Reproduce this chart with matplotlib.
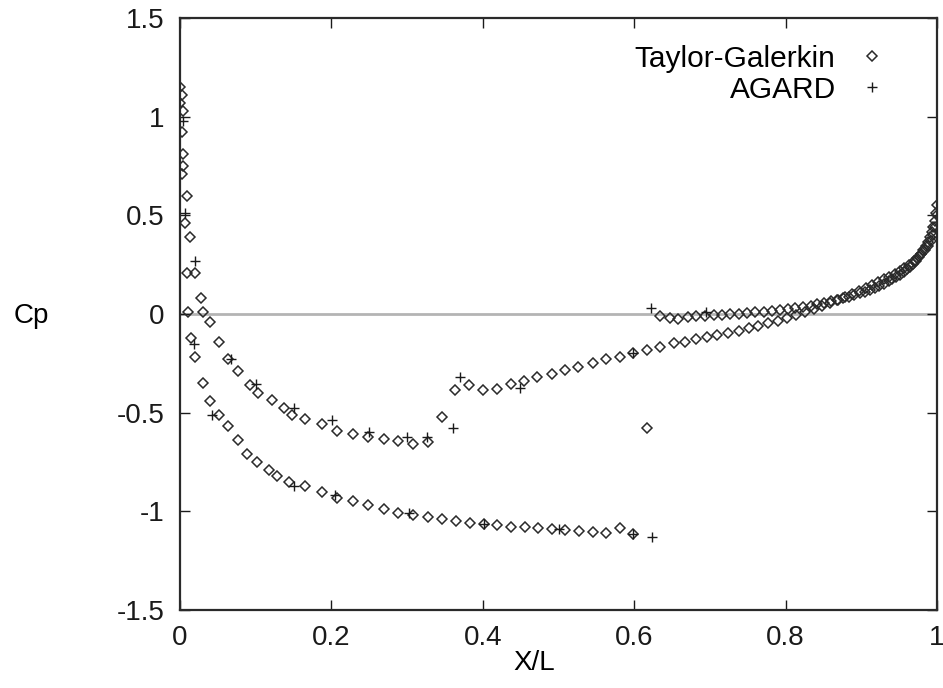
import matplotlib
matplotlib.use("Agg")
import matplotlib.pyplot as plt
import numpy as np

plt.rcParams["font.family"] = ["Liberation Sans", "DejaVu Sans"]

# Taylor-Galerkin, upper surface (suction side, shock near x/L = 0.62)
tg_upper_x = [0.000, 0.002, 0.000, 0.004, 0.002, 0.004, 0.004, 0.002, 0.009, 0.006,
              0.013, 0.009, 0.011, 0.015, 0.020, 0.030, 0.040, 0.052, 0.064, 0.076,
              0.088, 0.102, 0.117, 0.128, 0.144, 0.165, 0.187, 0.208, 0.228, 0.249,
              0.269, 0.288, 0.308, 0.327, 0.346, 0.365, 0.383, 0.401, 0.419, 0.437,
              0.456, 0.473, 0.492, 0.509, 0.527, 0.545, 0.563, 0.581, 0.599]
tg_upper_cp = [1.15, 1.11, 1.07, 1.03, 0.92, 0.81, 0.75, 0.71, 0.60, 0.46,
               0.39, 0.21, 0.01, -0.12, -0.22, -0.35, -0.44, -0.51, -0.57, -0.64,
               -0.71, -0.75, -0.79, -0.82, -0.85, -0.87, -0.90, -0.93, -0.95, -0.97,
               -0.99, -1.01, -1.02, -1.03, -1.04, -1.05, -1.06, -1.066, -1.069, -1.078,
               -1.078, -1.086, -1.091, -1.095, -1.098, -1.103, -1.111, -1.083, -1.115]

# Taylor-Galerkin, lower surface (shock near x/L = 0.35)
tg_lower_x = [0.020, 0.028, 0.031, 0.040, 0.051, 0.064, 0.077, 0.092, 0.103, 0.121,
              0.137, 0.148, 0.165, 0.187, 0.208, 0.228, 0.249, 0.269, 0.288, 0.308,
              0.327, 0.346, 0.363, 0.382, 0.400, 0.419, 0.437, 0.454, 0.472, 0.491,
              0.509, 0.526, 0.545, 0.563, 0.581, 0.598, 0.617, 0.634, 0.652, 0.667,
              0.682, 0.696, 0.710, 0.724, 0.738, 0.751, 0.764, 0.777, 0.790, 0.802,
              0.814, 0.826, 0.837, 0.848, 0.859, 0.869, 0.879, 0.888, 0.897, 0.906,
              0.914, 0.922, 0.930, 0.937, 0.944, 0.951, 0.957, 0.963, 0.969, 0.974,
              0.979, 0.984, 0.988, 0.992, 0.995, 0.998, 1.000]
tg_lower_cp = [0.21, 0.08, 0.01, -0.04, -0.14, -0.23, -0.29, -0.36, -0.40, -0.436,
               -0.475, -0.512, -0.534, -0.559, -0.591, -0.608, -0.622, -0.635, -0.642, -0.661,
               -0.647, -0.524, -0.385, -0.360, -0.385, -0.382, -0.355, -0.338, -0.321, -0.306,
               -0.284, -0.267, -0.250, -0.230, -0.219, -0.199, -0.182, -0.166, -0.149, -0.140,
               -0.128, -0.118, -0.108, -0.097, -0.085, -0.073, -0.060, -0.047, -0.033, -0.019,
               -0.005, 0.010, 0.025, 0.040, 0.055, 0.070, 0.085, 0.100, 0.115, 0.130,
               0.145, 0.160, 0.175, 0.190, 0.205, 0.220, 0.235, 0.250, 0.268, 0.285,
               0.303, 0.323, 0.345, 0.370, 0.400, 0.440, 0.500]

# Taylor-Galerkin, upper surface behind the shock
tg_aft_x = [0.617, 0.634, 0.647, 0.658, 0.671, 0.682, 0.694, 0.705, 0.716, 0.727,
            0.738, 0.749, 0.760, 0.771, 0.782, 0.793, 0.803, 0.813, 0.823, 0.833,
            0.842, 0.851, 0.860, 0.868, 0.876, 0.884, 0.891, 0.898, 0.905, 0.912,
            0.918, 0.924, 0.930, 0.936, 0.941, 0.946, 0.951, 0.956, 0.960, 0.964,
            0.968, 0.972, 0.976, 0.979, 0.982, 0.985, 0.988, 0.991, 0.993, 0.995,
            0.997, 0.999, 1.000]
tg_aft_cp = [-0.576, -0.010, -0.022, -0.025, -0.017, -0.010, -0.008, -0.005, -0.003, 0.000,
             0.002, 0.005, 0.008, 0.012, 0.016, 0.021, 0.026, 0.031, 0.037, 0.043,
             0.050, 0.057, 0.064, 0.072, 0.080, 0.088, 0.096, 0.105, 0.114, 0.123,
             0.133, 0.143, 0.154, 0.165, 0.176, 0.188, 0.200, 0.213, 0.226, 0.240,
             0.255, 0.271, 0.288, 0.305, 0.323, 0.343, 0.365, 0.390, 0.415, 0.440,
             0.470, 0.510, 0.550]

# AGARD experimental reference
agard_x = [0.004, 0.006, 0.020, 0.018, 0.042, 0.068, 0.101, 0.150, 0.150, 0.201,
           0.205, 0.250, 0.300, 0.302, 0.326, 0.360, 0.370, 0.401, 0.449, 0.500,
           0.598, 0.599, 0.623, 0.622, 0.695]
agard_cp = [0.98, 0.51, 0.27, -0.15, -0.51, -0.23, -0.355, -0.478, -0.872, -0.537,
            -0.917, -0.597, -0.622, -1.010, -0.622, -0.580, -0.318, -1.066, -0.377, -1.091,
            -0.196, -1.115, -1.132, 0.029, 0.010]

tg_x = np.concatenate([tg_upper_x, tg_lower_x, tg_aft_x])
tg_cp = np.concatenate([tg_upper_cp, tg_lower_cp, tg_aft_cp])

fig = plt.figure(figsize=(9.43, 6.88), dpi=100)
ax = fig.add_axes([180 / 943, 78 / 688, 757 / 943, 592 / 688])

ax.axhline(0, color="#b4b4b4", lw=2.0, zorder=1)
ax.plot(tg_x, tg_cp, ls="none", marker="D", ms=4.8, mfc="none", mec="#2a2a2a",
        mew=1.1, label="Taylor-Galerkin", zorder=3)
ax.plot(agard_x, agard_cp, ls="none", marker="+", ms=7, color="#1a1a1a",
        mew=1.0, label="AGARD", zorder=4)

ax.set_xlim(0, 1)
ax.set_ylim(-1.5, 1.5)
ax.set_xticks([0, 0.2, 0.4, 0.6, 0.8, 1])
ax.set_xticklabels(["0", "0.2", "0.4", "0.6", "0.8", "1"])
ax.set_yticks([-1.5, -1, -0.5, 0, 0.5, 1, 1.5])
ax.set_yticklabels(["-1.5", "-1", "-0.5", "0", "0.5", "1", "1.5"])
ax.tick_params(direction="in", length=7, width=1.0, top=True, right=True,
               labelsize=20, pad=11, colors="#1a1a1a")
for s in ax.spines.values():
    s.set_linewidth(1.6)
    s.set_color("#2a2a2a")

ax.set_xlabel("X/L", fontsize=20)
ax.xaxis.set_label_coords(0.468, -0.068)
ax.set_ylabel("Cp", fontsize=20, rotation=0, va="center")
ax.yaxis.set_label_coords(-0.197, 0.497)

ax.legend(loc="upper right", bbox_to_anchor=(0.953, 0.975), frameon=False,
          markerfirst=False, fontsize=21.5, handlelength=1.2, handletextpad=0.6,
          labelspacing=0.1, borderaxespad=0.0)

fig.savefig("out.png", dpi=100)
